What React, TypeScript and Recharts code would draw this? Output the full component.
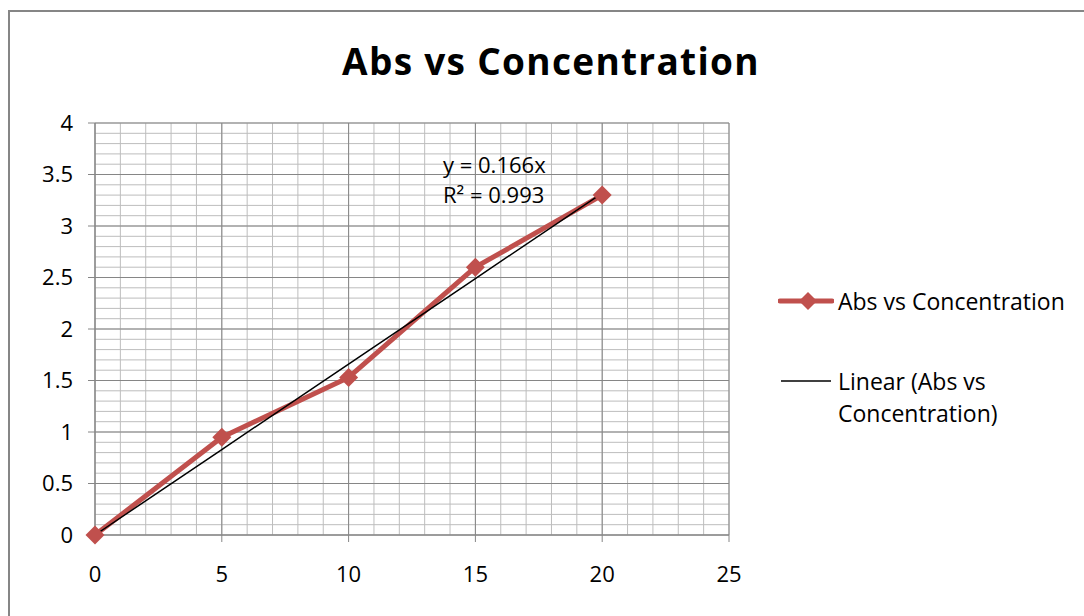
import { LineChart, Line, XAxis, YAxis, CartesianGrid } from "recharts"

const concentrations = [0, 5, 10, 15, 20]
const absorbances = [0, 0.95, 1.53, 2.6, 3.3]

// linear trendline forced through the origin
const trendSlope = 0.166
const rSquared = 0.993

const xTicks = [0, 5, 10, 15, 20, 25]
const yTicks = [0, 0.5, 1, 1.5, 2, 2.5, 3, 3.5, 4]

const minorX = Array.from({ length: 26 }, (_, i) => i)
const minorY = Array.from({ length: 41 }, (_, i) => i / 10)

const seriesName = "Abs vs Concentration"
const trendName = "Linear (Abs vs Concentration)"

const data = concentrations.map((conc, i) => ({
  conc,
  abs: absorbances[i],
  trend: trendSlope * conc,
}))

const FONT = "'Open Sans', sans-serif"
const RED = "#C0504D"
const MAJOR = "#868686"
const MINOR = "#bdbdbd"

const Diamond = (props: any) => {
  const { cx, cy } = props
  const r = 9.5
  return (
    <polygon
      points={`${cx},${cy - r} ${cx + r},${cy} ${cx},${cy + r} ${cx - r},${cy}`}
      fill={RED}
    />
  )
}

export default function App() {
  return (
    <div
      style={{
        position: "absolute",
        left: 8,
        top: 10,
        width: 1076,
        height: 606,
        borderTop: `2px solid ${MAJOR}`,
        borderLeft: `2px solid ${MAJOR}`,
        boxSizing: "border-box",
        fontFamily: FONT,
        background: "#fff",
      }}
    >
      <div
        style={{
          position: "absolute",
          left: 241,
          top: 24,
          width: 600,
          textAlign: "center",
          fontSize: 37,
          fontWeight: 700,
          letterSpacing: 1.3,
          lineHeight: "50px",
          color: "#000",
        }}
      >
        {seriesName}
      </div>

      <LineChart
        width={1074}
        height={604}
        data={data}
        margin={{ top: 111, right: 355, left: 25, bottom: 31 }}
      >
        <CartesianGrid
          stroke={MINOR}
          horizontalValues={minorY}
          verticalValues={minorX}
        />
        <CartesianGrid
          stroke={MAJOR}
          horizontalValues={yTicks}
          verticalValues={xTicks}
        />
        <XAxis
          dataKey="conc"
          type="number"
          domain={[0, 25]}
          ticks={xTicks}
          interval={0}
          height={50}
          tickSize={7}
          tickMargin={24}
          axisLine={{ stroke: MAJOR }}
          tickLine={{ stroke: MAJOR }}
          tick={{ fill: "#000", fontSize: 22, fontFamily: FONT }}
        />
        <YAxis
          type="number"
          domain={[0, 4]}
          ticks={yTicks}
          interval={0}
          width={60}
          tickSize={7}
          tickMargin={15}
          axisLine={{ stroke: MAJOR }}
          tickLine={{ stroke: MAJOR }}
          tick={{ fill: "#000", fontSize: 22, fontFamily: FONT }}
        />
        <Line
          type="linear"
          dataKey="abs"
          name={seriesName}
          stroke={RED}
          strokeWidth={5}
          strokeLinejoin="round"
          dot={<Diamond />}
          activeDot={false}
          isAnimationActive={false}
        />
        <Line
          type="linear"
          dataKey="trend"
          name={trendName}
          stroke="#000"
          strokeWidth={1.5}
          dot={false}
          activeDot={false}
          isAnimationActive={false}
        />
      </LineChart>

      {/* trendline equation */}
      <div
        style={{
          position: "absolute",
          left: 433,
          top: 137,
          fontSize: 22,
          lineHeight: "30px",
          color: "#000",
        }}
      >
        <div>y = {trendSlope}x</div>
        <div>R² = {rSquared}</div>
      </div>

      {/* legend */}
      <div
        style={{
          position: "absolute",
          left: 768,
          top: 273,
          fontSize: 23,
          lineHeight: "32px",
          color: "#000",
        }}
      >
        <div style={{ display: "flex", alignItems: "center" }}>
          <svg width={56} height={32}>
            <line x1={2} y1={16} x2={54} y2={16} stroke={RED} strokeWidth={5} strokeLinecap="round" />
            <polygon points="30,7 39,16 30,25 21,16" fill={RED} />
          </svg>
          <span style={{ marginLeft: 4 }}>{seriesName}</span>
        </div>
        <div style={{ display: "flex", alignItems: "flex-start", marginTop: 48 }}>
          <svg width={56} height={32}>
            <line x1={3} y1={16} x2={53} y2={16} stroke="#000" strokeWidth={1.5} />
          </svg>
          <span style={{ marginLeft: 4, width: 220 }}>
            Linear (Abs vs
            <br />
            Concentration)
          </span>
        </div>
      </div>
    </div>
  )
}
